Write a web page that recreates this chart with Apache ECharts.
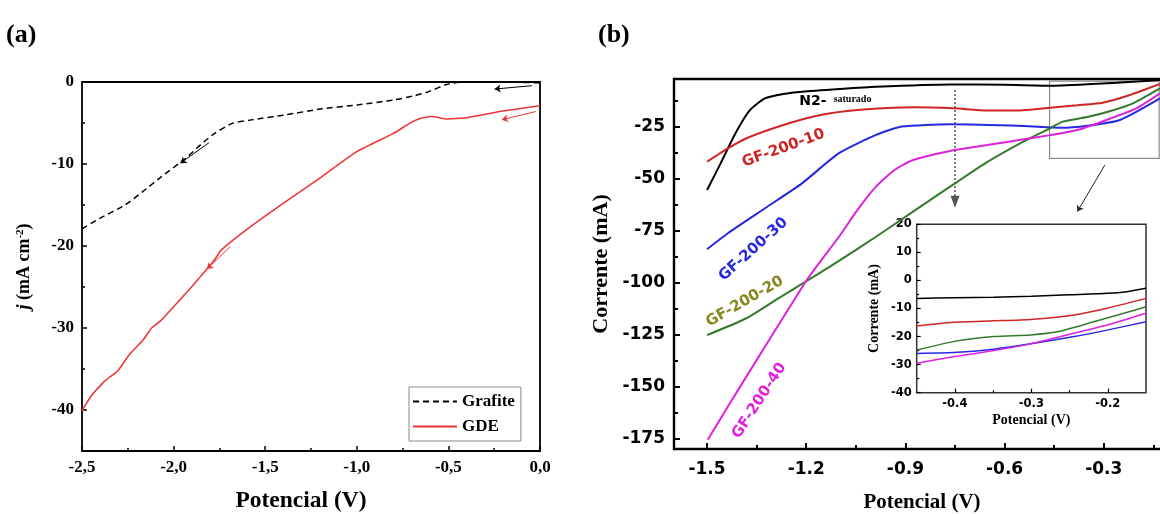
<!DOCTYPE html>
<html><head><meta charset="utf-8">
<script src="https://cdn.jsdelivr.net/npm/echarts@6/dist/echarts.min.js"></script>
<style>html,body{margin:0;padding:0;background:#fff}#c{width:1160px;height:514px}</style>
</head><body><div id="c"></div>
<script>
// ---------- Panel (a) data: [V, j] ----------
const grafite = [[-2.5,-17.9],[-2.4,-16.6],[-2.265,-15.0],[-2.17,-13.4],[-2.07,-11.6],[-1.934,-9.3],[-1.85,-7.6],[-1.778,-6.3],[-1.68,-5.05],[-1.583,-4.65],[-1.388,-4.0],[-1.2,-3.3],[-1.0,-2.8],[-0.8,-2.2],[-0.69,-1.7],[-0.61,-1.2],[-0.51,-0.3],[-0.42,0],[-0.2,0],[0,-0.1]];
const gde = [[-2.5,-40.1],[-2.45,-38.3],[-2.382,-36.6],[-2.35,-36.0],[-2.304,-35.2],[-2.24,-33.2],[-2.168,-31.5],[-2.12,-30.0],[-2.07,-29.1],[-2.0,-27.4],[-1.934,-25.8],[-1.86,-23.9],[-1.78,-21.8],[-1.74,-20.5],[-1.583,-17.7],[-1.388,-14.6],[-1.194,-11.6],[-1.0,-8.5],[-0.803,-6.3],[-0.7,-4.9],[-0.647,-4.4],[-0.59,-4.2],[-0.55,-4.35],[-0.513,-4.5],[-0.415,-4.4],[-0.218,-3.6],[0,-2.9]];
const aXTicks = [-2.5,-2.0,-1.5,-1.0,-0.5,0];
const aXMinor = [-2.25,-1.75,-1.25,-0.75,-0.25];
const aYTicks = [0,-10,-20,-30,-40];
const aYMinor = [-5,-15,-25,-35];

// ---------- Panel (b) data: [V, I] ----------
const n2Sat = [[-1.5,-55.4],[-1.459,-42.6],[-1.414,-28.1],[-1.37,-16.9],[-1.325,-11.3],[-1.269,-9.2],[-1.213,-8.1],[-1.1,-6.8],[-0.989,-5.7],[-0.765,-4.6],[-0.6,-4.8],[-0.45,-5.2],[-0.262,-3.8],[-0.13,-2.5]];
const gf10 = [[-1.5,-41.8],[-1.437,-35.4],[-1.381,-30.5],[-1.269,-24.1],[-1.157,-19.3],[-1.045,-16.9],[-0.877,-15.6],[-0.754,-16.1],[-0.653,-17.2],[-0.564,-17.2],[-0.463,-15.8],[-0.38,-14.6],[-0.303,-13.4],[-0.221,-9.7],[-0.13,-4.4]];
const gf30 = [[-1.5,-83.9],[-1.437,-76.2],[-1.325,-64.2],[-1.213,-52.2],[-1.101,-37.7],[-0.989,-28.9],[-0.911,-24.9],[-0.765,-23.8],[-0.542,-24.6],[-0.43,-25.5],[-0.35,-24.5],[-0.251,-21.7],[-0.13,-11.3]];
const gf20 = [[-1.5,-125.2],[-1.381,-117.1],[-1.292,-108.3],[-1.202,-99.5],[-1.101,-89.5],[-0.989,-77.9],[-0.877,-65.8],[-0.765,-53.8],[-0.653,-42],[-0.542,-32],[-0.46,-25.5],[-0.424,-22.5],[-0.35,-20.3],[-0.282,-17.5],[-0.212,-13.7],[-0.13,-6.5]];
const gf40 = [[-1.498,-175.6],[-1.437,-159.6],[-1.325,-130.8],[-1.202,-99.5],[-1.168,-92],[-1.101,-77.9],[-1.045,-65],[-0.989,-53.8],[-0.933,-45.8],[-0.877,-41],[-0.765,-36.6],[-0.653,-33.8],[-0.542,-31],[-0.463,-29],[-0.38,-26.5],[-0.292,-21.7],[-0.2,-16],[-0.13,-8.9]];
const bXTicks = [-1.5,-1.2,-0.9,-0.6,-0.3];
const bXMinor = [-1.35,-1.05,-0.75,-0.45,-0.15];
const bYTicks = [-25,-50,-75,-100,-125,-150,-175];
const bYMinor = [-12.5,-37.5,-62.5,-87.5,-112.5,-137.5,-162.5];

// ---------- Inset data ----------
const inN2 = [[-0.45,-6.4],[-0.4,-6.2],[-0.35,-6.0],[-0.3,-5.6],[-0.25,-5.1],[-0.2,-4.6],[-0.175,-4.0],[-0.15,-2.8]];
const in10 = [[-0.45,-16.2],[-0.402,-14.9],[-0.35,-14.4],[-0.301,-13.9],[-0.244,-12.3],[-0.201,-9.9],[-0.15,-6.4]];
const in20 = [[-0.45,-24.8],[-0.402,-21.8],[-0.349,-20],[-0.301,-19.4],[-0.266,-18.3],[-0.223,-15.1],[-0.179,-11.7],[-0.15,-9.4]];
const in30 = [[-0.45,-26],[-0.402,-25.7],[-0.349,-24.5],[-0.301,-22.6],[-0.244,-20],[-0.201,-17.7],[-0.15,-14.7]];
const in40 = [[-0.45,-29.5],[-0.402,-27.2],[-0.349,-25],[-0.301,-22.6],[-0.244,-18.8],[-0.201,-15.9],[-0.15,-11.7]];
const iXTicks = [-0.4,-0.3,-0.2];
const iXMinor = [-0.35,-0.25];
const iYTicks = [20,10,0,-10,-20,-30,-40];
const iYMinor = [15,5,-5,-15,-25,-35];

const SERIF = 'Liberation Serif';
const SANS = 'DejaVu Sans';

function ax(o) {
  return {
    type: 'value', gridIndex: o.grid, min: o.min, max: o.max, position: o.pos,
    axisLine: { show: !!o.line, onZero: false, lineStyle: { color: '#000', width: o.lw || 2 } },
    splitLine: { show: false },
    axisTick: o.ticks ? { show: true, inside: true, length: o.len, customValues: o.ticks, lineStyle: { color: '#000', width: o.tw || 1.5 } } : { show: false },
    axisLabel: o.labels ? { show: true, customValues: o.ticks, formatter: o.fmt, color: '#000', fontFamily: o.ff, fontWeight: 'bold', fontSize: o.fs, margin: o.margin } : { show: false },
    name: o.name || '', nameLocation: 'middle', nameGap: o.gap || 0,
    nameTextStyle: o.nts || {}
  };
}
const fmtComma = v => v.toFixed(1).replace('.', ',');
const fmt1 = v => v.toFixed(1);
const fmt0 = v => String(Math.round(v));

const B_MIN = -1.6, B_MAX = -0.13;
const xAxis = [
  ax({grid:0,min:-2.5,max:0,pos:'bottom',len:5,ticks:aXTicks,labels:true,fmt:fmtComma,ff:SERIF,fs:17,margin:8,
      name:'Potencial (V)',gap:38,nts:{fontFamily:SERIF,fontWeight:'bold',fontSize:23.5,color:'#000',padding:[0,20,0,0]}}),
  ax({grid:0,min:-2.5,max:0,pos:'bottom',len:3,ticks:aXMinor}),
  ax({grid:1,min:B_MIN,max:B_MAX,pos:'bottom',line:true,lw:2.4,len:6,tw:2,ticks:bXTicks,labels:true,fmt:fmt1,ff:SANS,fs:17,margin:12,
      name:'Potencial (V)',gap:43,nts:{fontFamily:SERIF,fontWeight:'bold',fontSize:21,color:'#000',padding:[0,0,0,10]}}),
  ax({grid:1,min:B_MIN,max:B_MAX,pos:'bottom',len:4,tw:2,ticks:bXMinor}),
  ax({grid:2,min:-0.45,max:-0.15,pos:'bottom',len:4,tw:1.2,ticks:iXTicks,labels:true,fmt:fmt1,ff:SANS,fs:11.5,margin:5,
      name:'Potencial (V)',gap:21,nts:{fontFamily:SERIF,fontWeight:'bold',fontSize:14,color:'#000'}}),
  ax({grid:2,min:-0.45,max:-0.15,pos:'bottom',len:2.5,tw:1.2,ticks:iXMinor}),
  ax({grid:1,min:B_MIN,max:B_MAX,pos:'top',line:true,lw:2.4})
];
const yAxis = [
  ax({grid:0,min:-45,max:0,pos:'left',len:5,ticks:aYTicks,labels:true,fmt:fmt0,ff:SERIF,fs:17,margin:8,
      name:'{i|j} (mA cm{s|-2})',gap:48,nts:{fontFamily:SERIF,fontWeight:'bold',fontSize:18,color:'#000',
      rich:{i:{fontFamily:SERIF,fontWeight:'bold',fontStyle:'italic',fontSize:18,color:'#000'},
            s:{fontFamily:SERIF,fontWeight:'bold',fontSize:11,color:'#000',verticalAlign:'top',padding:[0,0,8,0]}}}}),
  ax({grid:0,min:-45,max:0,pos:'left',len:3,ticks:aYMinor}),
  ax({grid:1,min:-180,max:-2,pos:'left',line:true,lw:2.4,len:6,tw:2,ticks:bYTicks,labels:true,fmt:fmt0,ff:SANS,fs:17,margin:9,
      name:'Corrente (mA)',gap:62,nts:{fontFamily:SERIF,fontWeight:'bold',fontSize:22,color:'#000'}}),
  ax({grid:1,min:-180,max:-2,pos:'left',len:4,tw:2,ticks:bYMinor}),
  ax({grid:2,min:-40,max:20,pos:'left',len:4,tw:1.2,ticks:iYTicks,labels:true,fmt:fmt0,ff:SANS,fs:11.5,margin:5,
      name:'Corrente (mA)',gap:35,nts:{fontFamily:SERIF,fontWeight:'bold',fontSize:14,color:'#000'}}),
  ax({grid:2,min:-40,max:20,pos:'left',len:2.5,tw:1.2,ticks:iYMinor})
];

function line(name, data, xi, color, width, extra) {
  return Object.assign({
    name, type: 'line', data, xAxisIndex: xi, yAxisIndex: xi,
    showSymbol: false, symbol: 'none', smooth: 0.2,
    lineStyle: { color, width }, itemStyle: { color }, silent: true, animation: false
  }, extra || {});
}
const arrowML = (pairs, color, type, size, width) => ({
  silent: true, symbol: ['none', 'arrow'], symbolSize: size, animation: false,
  label: { show: false }, lineStyle: { color, type, width },
  data: pairs.map(p => [{ coord: p[0] }, { coord: p[1] }])
});

const RED_A = '#ec3434', RED = '#cf2424', BLUE = '#2727e3', GREEN = '#357a2c', MAG = '#dd22dd';

const series = [
  line('Grafite', grafite, 0, '#000', 1.5, {
    lineStyle: { color: '#000', width: 1.5, type: [6, 4] },
    markLine: arrowML([[[-0.044,-0.45],[-0.248,-0.86]], [[-1.807,-7.4],[-1.963,-9.9]]], '#000', 'solid', 6, 1)
  }),
  line('GDE', gde, 0, RED_A, 1.5, {
    markLine: arrowML([[[-0.023,-3.6],[-0.208,-4.6]], [[-1.692,-20.1],[-1.818,-22.8]]], RED_A, 'solid', 6, 1)
  }),
  line('N2', n2Sat, 2, '#000', 2, {
    markLine: {
      silent: true, animation: false, label: { show: false },
      data: [
        [{ coord: [-0.75, -7.3], symbol: 'none', lineStyle: { color: '#555', type: [2, 2], width: 1.5 } },
         { coord: [-0.75, -61], symbol: 'triangle', symbolSize: [9, 12], symbolRotate: 180, itemStyle: { color: '#222' } }],
        [{ coord: [-0.297, -43.4], symbol: 'none', lineStyle: { color: '#222', type: 'solid', width: 1 } },
         { coord: [-0.38, -65.8], symbol: 'arrow', symbolSize: 6 }]
      ]
    },
    markArea: {
      silent: true, animation: false, label: { show: false },
      itemStyle: { color: 'rgba(0,0,0,0)', borderColor: '#8c8c8c', borderWidth: 1.2 },
      data: [[{ coord: [-0.464, -3] }, { coord: [-0.1325, -40.2] }]]
    }
  }),
  line('GF-200-10', gf10, 2, RED, 2),
  line('GF-200-30', gf30, 2, BLUE, 2),
  line('GF-200-20', gf20, 2, GREEN, 2),
  line('GF-200-40', gf40, 2, MAG, 2),
  line('iN2', inN2, 4, '#000', 1.5),
  line('i10', in10, 4, RED, 1.5),
  line('i20', in20, 4, GREEN, 1.5),
  line('i30', in30, 4, BLUE, 1.5),
  line('i40', in40, 4, MAG, 1.5)
];

const chart = echarts.init(document.getElementById('c'), null, { renderer: 'canvas' });
chart.setOption({
  animation: false,
  backgroundColor: '#fff',
  grid: [
    { left: 82, top: 82, width: 458, height: 369, outerBoundsMode: 'none', containLabel: false, show: true, borderColor: '#000', borderWidth: 1.8, backgroundColor: 'transparent' },
    { left: 674, top: 79, width: 486, height: 370, outerBoundsMode: 'none', containLabel: false, show: false },
    { left: 916.7, top: 224.3, width: 229.3, height: 168.4, outerBoundsMode: 'none', containLabel: false, show: true, borderColor: '#333', borderWidth: 1.5, backgroundColor: '#fff' }
  ],
  legend: {
    data: ['Grafite', 'GDE'], orient: 'vertical', left: 409, top: 387, selectedMode: false,
    itemWidth: 44, itemHeight: 12, itemGap: 8, padding: [6, 6, 6, 3],
    itemStyle: { opacity: 0 },
    borderColor: '#8a8a8a', borderWidth: 1, borderRadius: 0, backgroundColor: '#fff',
    textStyle: { fontFamily: SERIF, fontWeight: 'bold', fontSize: 17, color: '#000' }
  },
  xAxis, yAxis, series
});

// curve labels placed at data coordinates of panel (b)
const P = c => chart.convertToPixel({ xAxisIndex: 2, yAxisIndex: 2 }, c);
const labelDefs = [
  { text: 'GF-200-10', at: [-1.269, -35.3], rot: 20, color: RED },
  { text: 'GF-200-30', at: [-1.36, -84], rot: 42, color: BLUE },
  { text: 'GF-200-20', at: [-1.386, -109.1], rot: 30, color: '#86861c' },
  { text: 'GF-200-40', at: [-1.342, -156.8], rot: 57, color: MAG }
];
const graphics = labelDefs.map(d => {
  const p = P(d.at);
  return { type: 'text', x: p[0], y: p[1], rotation: d.rot * Math.PI / 180, silent: true,
    style: { text: d.text, fill: d.color, font: 'bold 15px "DejaVu Sans"', align: 'center', verticalAlign: 'middle' } };
});
const pn = P([-1.18, -12.6]);
graphics.push({ type: 'text', x: pn[0], y: pn[1], silent: true,
  style: { text: 'N2-', fill: '#000', font: 'bold 14px "DejaVu Sans"', align: 'center', verticalAlign: 'middle' } });
const ps = P([-1.06, -11.8]);
graphics.push({ type: 'text', x: ps[0], y: ps[1], silent: true,
  style: { text: 'saturado', fill: '#000', font: 'bold 10px "Liberation Serif"', align: 'center', verticalAlign: 'middle' } });
graphics.push({ type: 'text', left: 6, top: 22, silent: true,
  style: { text: '(a)', fill: '#000', font: 'bold 26px "Liberation Serif"' } });
graphics.push({ type: 'text', left: 598, top: 22, silent: true,
  style: { text: '(b)', fill: '#000', font: 'bold 26px "Liberation Serif"' } });
chart.setOption({ graphic: graphics });
</script></body></html>
